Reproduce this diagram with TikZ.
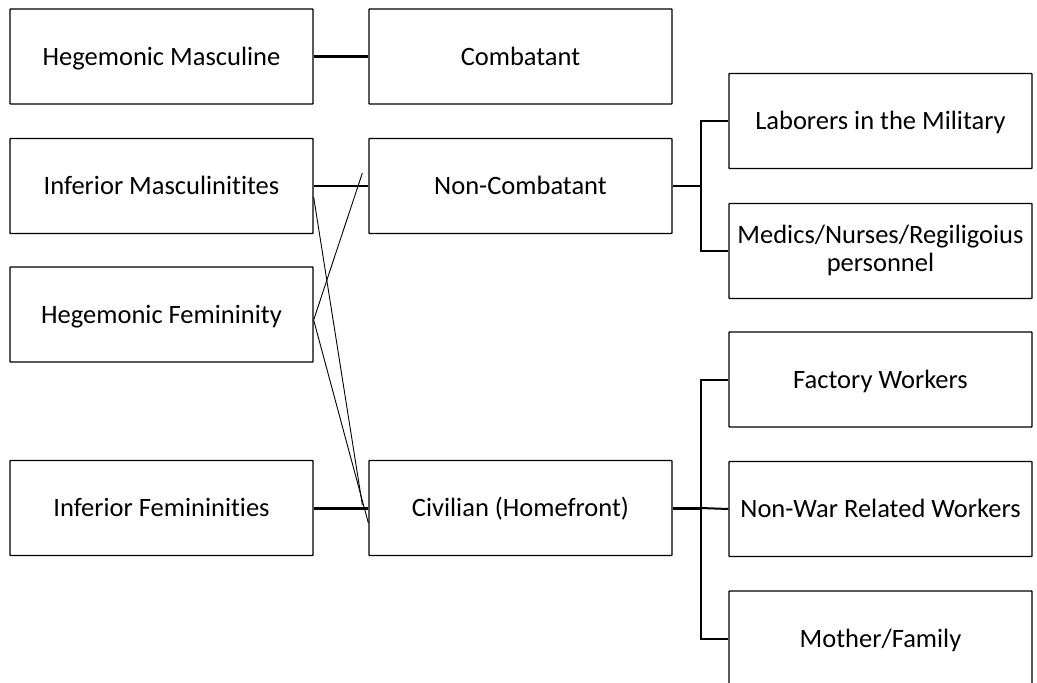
\documentclass[tikz,border=0pt]{standalone}
\usepackage{fontspec}
\setmainfont{Carlito}[Ligatures=NoCommon]
\usetikzlibrary{calc}

\begin{document}
\begin{tikzpicture}[x=1pt,y=-1pt,
		box/.style={draw,line width=1.3pt,rounded corners=0.6pt,minimum width=303pt,minimum height=95pt,inner sep=1pt,align=center,font=\fontsize{26.5}{28}\selectfont},
		onebox/.style={box,text height=20pt,text depth=3pt},
		thickline/.style={line width=3pt},
		medline/.style={line width=2pt},
		crossline/.style={line width=0.9pt}]
			\useasboundingbox (0,0) rectangle (1037,683);
			% left column
			\node[onebox] (hm) at (161.5,56.5) {Hegemonic Masculine};
			\node[onebox] (im) at (161.5,186) {Inferior Masculinitites};
			\node[onebox] (hf) at (161.5,314.5) {Hegemonic Femininity};
			\node[onebox] (if) at (161.5,508) {Inferior Femininities};
			% middle column
			\node[onebox] (comb) at (520.5,56.5) {Combatant};
			\node[onebox] (noncomb) at (520.5,186) {Non-Combatant};
			\node[onebox] (civ) at (520.5,508) {Civilian (Homefront)};
			% right column
			\node[onebox] (labor) at (880.5,121) {Laborers in the Military};
			\node[box,text depth=5pt] (medic) at (880.5,251) {Medics/Nurses/Regiligoius\\personnel};
			\node[onebox] (factory) at (880.5,379.5) {Factory Workers};
			\node[onebox] (nonwar) at (880.5,509) {Non-War Related Workers};
			\node[onebox] (mother) at (880.5,638.5) {Mother/Family};

			\draw[thickline] (hm.east) -- (comb.west);
			\draw[medline] (im.east) -- (noncomb.west);
			\draw[thickline] (if.east) -- (civ.west);
			% crossing links
			\draw[crossline] ([yshift=-11pt]im.east) -- ([xshift=-6pt,yshift=3pt]civ.west);
			\draw[crossline] ([yshift=-5.5pt]hf.east) -- ([yshift=-15pt]civ.west);
			\draw[crossline] ([yshift=-5.5pt]hf.east) -- ([xshift=-6pt,yshift=13pt]noncomb.west);
			% brackets
			\coordinate (nbus) at ($(noncomb.east)!0.5!(noncomb.east -| labor.west)$);
			\draw[medline] (noncomb.east) -- (nbus);
			\draw[medline] (labor.west) -| (nbus) |- (medic.west);
			\coordinate (cbus) at ($(civ.east)!0.5!(civ.east -| nonwar.west)$);
			\draw[thickline] (civ.east) -- (cbus);
			\draw[medline] (cbus) -- (nonwar.west);
			\draw[medline] (factory.west) -| (cbus) |- (mother.west);
		\end{tikzpicture}
\end{document}
